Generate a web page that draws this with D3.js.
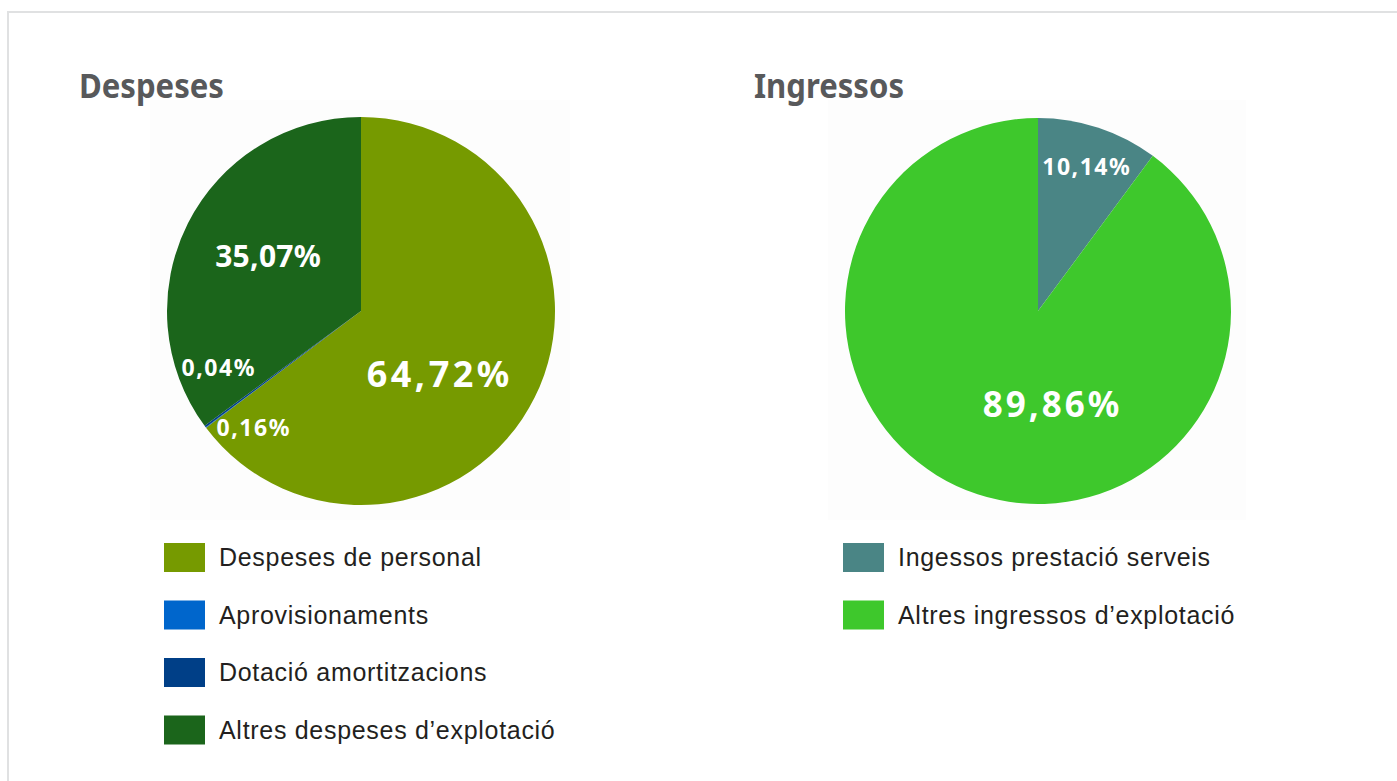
<!DOCTYPE html>
<html lang="ca">
<head>
<meta charset="UTF-8">
<title>Despeses i Ingressos</title>
<script src="https://cdn.jsdelivr.net/npm/d3@7"></script>
<style>
  body { margin: 0; background: #fff; }
  svg { display: block; }
</style>
</head>
<body>
<script>
// dades
var despesesLabels = ["Despeses de personal", "Aprovisionaments", "Dotació amortitzacions", "Altres despeses d\u2019explotació"];
var despesesValues = [64.72, 0.04, 0.16, 35.07];
var despesesColors = ["#769a00", "#0066cc", "#003f87", "#1b651b"];

var ingressosLabels = ["Ingessos prestació serveis", "Altres ingressos d\u2019explotació"];
var ingressosValues = [10.14, 89.86];
var ingressosColors = ["#4a8585", "#3ec82c"];

var width = 1397, height = 781;

var svg = d3.select("body").append("svg")
    .attr("width", width)
    .attr("height", height);

// marc gris
svg.append("rect")
    .attr("x", 8).attr("y", 12)
    .attr("width", 1600).attr("height", 1000)
    .attr("fill", "none")
    .attr("stroke", "#e0e1e2")
    .attr("stroke-width", 2);

function fmt(v) { return v.toFixed(2).replace(".", ",") + "%"; }

function drawPie(opts) {
    var g = svg.append("g");

    g.append("rect")
        .attr("x", opts.bg[0]).attr("y", opts.bg[1])
        .attr("width", opts.bg[2]).attr("height", opts.bg[3])
        .attr("fill", "#fdfdfd");

    g.append("text")
        .attr("x", opts.titleX).attr("y", 98)
        .attr("font-family", "'Noto Sans', sans-serif")
        .attr("font-weight", "bold")
        .attr("font-size", 34)
        .attr("fill", "#58595b")
        .attr("textLength", opts.titleW)
        .attr("lengthAdjust", "spacingAndGlyphs")
        .text(opts.title);

    var pie = d3.pie().sort(null);
    var arc = d3.arc().innerRadius(0).outerRadius(opts.r);
    var arcs = pie(opts.values);

    var pg = g.append("g")
        .attr("transform", "translate(" + opts.cx + "," + opts.cy + ")");
    pg.selectAll("path")
        .data(arcs)
        .enter()
        .append("path")
        .attr("fill", (d, i) => opts.colors[i])
        .attr("d", arc);

    // etiquetes
    pg.selectAll("text.lbl")
        .data(arcs)
        .enter()
        .append("text")
        .attr("class", "lbl")
        .attr("x", (d, i) => opts.labelPos[i][0] + opts.labelLs[i] / 2)
        .attr("y", (d, i) => opts.labelPos[i][1])
        .attr("text-anchor", "middle")
        .attr("font-family", "'Noto Sans', sans-serif")
        .attr("font-weight", "bold")
        .attr("font-size", (d, i) => opts.labelSize[i])
        .attr("letter-spacing", (d, i) => opts.labelLs[i])
        .attr("fill", "#fff")
        .text(d => fmt(d.data));

    // llegenda
    var lg = g.selectAll("g.leg")
        .data(opts.labels)
        .enter()
        .append("g")
        .attr("class", "leg")
        .attr("transform", (d, i) => "translate(" + opts.legX + "," + (543 + i * 57.5) + ")");
    lg.append("rect")
        .attr("width", 41).attr("height", 29)
        .attr("fill", (d, i) => opts.colors[i]);
    lg.append("text")
        .attr("x", 55).attr("y", 23)
        .attr("font-family", "'Liberation Sans', Arial, sans-serif")
        .attr("font-size", 25)
        .attr("letter-spacing", 0.7)
        .attr("fill", "#231f20")
        .text(d => d);
}

drawPie({
    title: "Despeses", titleX: 79, titleW: 145,
    bg: [150, 100, 420, 420],
    cx: 361, cy: 311, r: 194,
    values: despesesValues, colors: despesesColors, labels: despesesLabels,
    labelPos: [[77, 76], [-143, 65], [-108, 125], [-93, -44]],
    labelSize: [36, 23, 23, 30],
    labelLs: [3.5, 1.5, 1.5, 0.3],
    legX: 164
});

drawPie({
    title: "Ingressos", titleX: 754, titleW: 150,
    bg: [828, 100, 418, 420],
    cx: 1038, cy: 311, r: 193,
    values: ingressosValues, colors: ingressosColors, labels: ingressosLabels,
    labelPos: [[48, -136], [13, 106]],
    labelSize: [23, 35],
    labelLs: [1.5, 3],
    legX: 843
});
</script>
</body>
</html>
